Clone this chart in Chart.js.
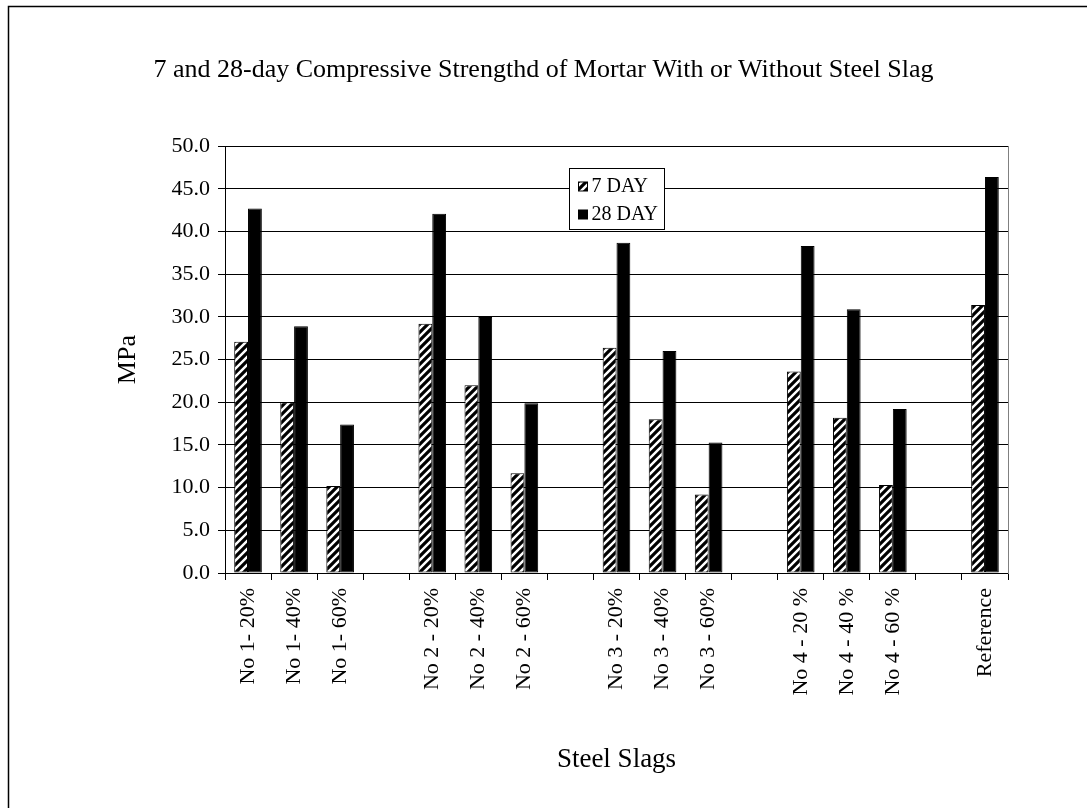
<!DOCTYPE html>
<html>
<head>
<meta charset="utf-8">
<title>Compressive Strength of Mortar</title>
<script src="https://cdn.jsdelivr.net/npm/chart.js@4.4.0/dist/chart.umd.min.js"></script>
<style>
  html, body { margin: 0; padding: 0; background: #fff; }
  #c { display: block; }
</style>
</head>
<body>
<canvas id="c" width="1087" height="808"></canvas>
<script>
// Mix designs along the x axis; empty strings are spacer slots between groups
const categories = [
  'No 1- 20%', 'No 1- 40%', 'No 1- 60%', '',
  'No 2 - 20%', 'No 2 - 40%', 'No 2 - 60%', '',
  'No 3 - 20%', 'No 3 - 40%', 'No 3 - 60%', '',
  'No 4 - 20 %', 'No 4 - 40 %', 'No 4 - 60 %', '',
  'Reference'
];

// Compressive strength, MPa
const day7  = [27.1, 20.0, 10.2, null, 29.2, 22.0, 11.7, null, 26.4, 18.0, 9.2, null, 23.6, 18.2, 10.3, null, 31.4];
const day28 = [42.7, 28.9, 17.4, null, 42.1, 30.0, 19.9, null, 38.7, 26.0, 15.3, null, 38.3, 30.9, 19.2, null, 46.4];

const seriesNames = ['7 DAY', '28 DAY'];

const yMin = 0;
const yMax = 50;
const yStep = 5;

const SERIF = '"Liberation Serif", "Times New Roman", serif';

const canvas = document.getElementById('c');
const ctx0 = canvas.getContext('2d');

// Diagonal "/" hatch used for the 7-day bars
function makeHatch() {
  const s = 8;
  const tile = document.createElement('canvas');
  tile.width = s; tile.height = s;
  const g = tile.getContext('2d');
  g.fillStyle = '#fff';
  g.fillRect(0, 0, s, s);
  g.strokeStyle = '#000';
  g.lineWidth = 3.2;
  g.beginPath();
  g.moveTo(-1, s + 1); g.lineTo(s + 1, -1);
  g.moveTo(-s / 2 - 1, s / 2 + 1); g.lineTo(s / 2 + 1, -s / 2 - 1);
  g.moveTo(s / 2 - 1, s * 1.5 + 1); g.lineTo(s * 1.5 + 1, s / 2 - 1);
  g.stroke();
  return ctx0.createPattern(tile, 'repeat');
}
const hatch = makeHatch();

// Page frame and plain white background
const framePlugin = {
  id: 'frame',
  beforeDraw(chart) {
    const c = chart.ctx;
    c.save();
    c.fillStyle = '#fff';
    c.fillRect(0, 0, chart.width, chart.height);
    c.strokeStyle = '#000';
    c.lineWidth = 1.5;
    c.strokeRect(8.5, 6.5, chart.width + 20, chart.height + 20);
    c.restore();
  }
};

// Boxed legend floating near the top of the plot area
const boxLegend = {
  id: 'boxLegend',
  afterDraw(chart) {
    const c = chart.ctx;
    const area = chart.chartArea;
    const w = 95, h = 61;
    const x = Math.round((area.left + area.right) / 2 - w / 2) + 0.5;
    const y = Math.round(area.top + 22) + 0.5;
    c.save();
    c.fillStyle = '#fff';
    c.fillRect(x, y, w, h);
    c.strokeStyle = '#000';
    c.lineWidth = 1;
    c.strokeRect(x, y, w, h);
    c.font = '20px ' + SERIF;
    c.textBaseline = 'middle';
    c.textAlign = 'left';
    chart.data.datasets.forEach((ds, i) => {
      const cy = Math.round(y + 17 + i * 28);
      c.fillStyle = ds.backgroundColor;
      c.fillRect(x + 9, cy - 4, 9, 9);
      c.strokeStyle = '#000';
      c.strokeRect(x + 9, cy - 4, 9, 9);
      c.fillStyle = '#000';
      c.fillText(ds.label, x + 22, cy + 1);
    });
    c.restore();
  }
};

new Chart(canvas, {
  type: 'bar',
  data: {
    labels: categories,
    datasets: [
      {
        label: seriesNames[0],
        data: day7,
        backgroundColor: hatch,
        borderColor: '#000',
        borderWidth: 1,
        borderSkipped: false
      },
      {
        label: seriesNames[1],
        data: day28,
        backgroundColor: '#000',
        borderColor: '#000',
        borderWidth: 1,
        borderSkipped: false
      }
    ]
  },
  options: {
    responsive: false,
    animation: false,
    devicePixelRatio: 1,
    layout: { padding: 0 },
    categoryPercentage: 0.6,
    barPercentage: 1.0,
    plugins: {
      legend: { display: false },
      tooltip: { enabled: false },
      title: {
        display: true,
        text: '7 and 28-day Compressive Strengthd of Mortar With or Without Steel Slag',
        color: '#000',
        font: { family: SERIF, size: 26, weight: 'normal', lineHeight: 1.2 },
        padding: { top: 55, bottom: 60 }
      }
    },
    scales: {
      x: {
        type: 'category',
        offset: true,
        grid: {
          offset: true,
          drawOnChartArea: false,
          drawTicks: true,
          tickLength: 7,
          color: '#000',
          lineWidth: 1
        },
        border: { display: true, color: '#000', width: 1 },
        ticks: {
          autoSkip: false,
          maxRotation: 90,
          minRotation: 90,
          padding: 8,
          color: '#000',
          font: { family: SERIF, size: 22 }
        },
        title: {
          display: true,
          text: 'Steel Slags',
          color: '#000',
          font: { family: SERIF, size: 27, lineHeight: 1.2 },
          padding: { top: 0, bottom: 32 }
        },
        afterFit(scale) { scale.height = 235; }
      },
      y: {
        type: 'linear',
        position: 'left',
        min: yMin,
        max: yMax,
        grid: {
          color: '#000',
          lineWidth: 1,
          drawTicks: true,
          tickLength: 7
        },
        border: { display: true, color: '#000', width: 1 },
        ticks: {
          stepSize: yStep,
          padding: 8,
          color: '#000',
          font: { family: SERIF, size: 22 },
          callback: v => Number(v).toFixed(1)
        },
        title: {
          display: true,
          text: 'MPa',
          color: '#000',
          font: { family: SERIF, size: 26, lineHeight: 1.2 },
          padding: { top: 113, bottom: 0 }
        },
        afterFit(scale) { scale.width = 225; }
      },
      yRight: {
        type: 'linear',
        position: 'right',
        min: yMin,
        max: yMax,
        grid: { drawOnChartArea: false, drawTicks: false },
        border: { display: true, color: '#808080', width: 1 },
        ticks: { display: false },
        afterFit(scale) { scale.width = 79; }
      }
    }
  },
  plugins: [framePlugin, boxLegend]
});
</script>
</body>
</html>
